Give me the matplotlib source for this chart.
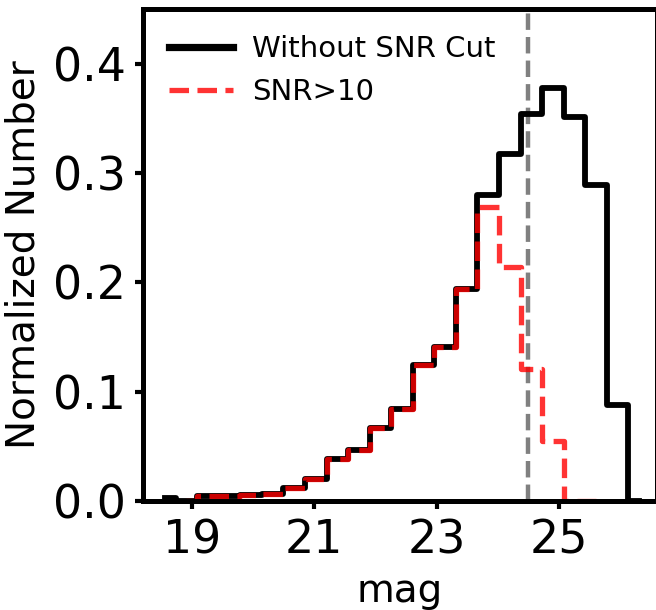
import matplotlib
matplotlib.use("Agg")
import matplotlib.pyplot as plt

# bin centres (mag)
mag_centers = [18.559, 18.911, 19.264, 19.616, 19.969, 20.321, 20.673, 21.026,
               21.378, 21.730, 22.083, 22.435, 22.787, 23.140, 23.492, 23.845,
               24.197, 24.549, 24.902, 25.254, 25.606, 25.959, 26.311]

# normalized counts, all sources
all_norm = [0.003, 0.0, 0.0045, 0.0045, 0.0058, 0.006, 0.012, 0.020,
            0.038, 0.0465, 0.067, 0.084, 0.124, 0.141, 0.194, 0.280,
            0.317, 0.354, 0.378, 0.351, 0.289, 0.088, 0.0]

# normalized counts, SNR>10 (starts at 2nd bin, ends at 21st)
snr_centers = mag_centers[1:21]
snr_norm = [0.0, 0.0045, 0.0045, 0.0058, 0.006, 0.012, 0.020,
            0.038, 0.0465, 0.067, 0.084, 0.124, 0.141, 0.194, 0.269,
            0.214, 0.121, 0.055, 0.0, 0.0]

cut_mag = 24.5
xticks = [19, 21, 23, 25]
yticks = [0.0, 0.1, 0.2, 0.3, 0.4]

fig = plt.figure(figsize=(6.56, 6.10), dpi=100)
ax = fig.add_axes([143/656, 109/610, (656.8-143)/656, (501-9)/610])

ax.axvline(cut_mag, color='gray', ls='--', lw=3.2, zorder=1)
ax.plot(mag_centers, all_norm, drawstyle='steps-mid', color='black', lw=4.2,
        label='Without SNR Cut', zorder=2)
ax.plot(snr_centers, snr_norm, drawstyle='steps-mid', color='red', alpha=0.8,
        ls='--', lw=3.8, label='SNR>10', zorder=2.1)

ax.set_xlim(18.2, 26.6)
ax.set_ylim(0, 0.45)
ax.set_xticks(xticks)
ax.set_yticks(yticks)
ax.tick_params(axis='both', labelsize=33, length=5.5, width=3, pad=7)

for sp in ax.spines.values():
    sp.set_linewidth(3.6)

ax.set_xlabel('mag', fontsize=28, labelpad=6)
ax.set_ylabel('Normalized Number', fontsize=28, labelpad=7)

leg = ax.legend(loc='upper left', frameon=False, fontsize=21, handlelength=2.2,
                handletextpad=0.65)
leg.get_lines()[0].set_linewidth(5.2)

fig.savefig('out.png', dpi=100)
